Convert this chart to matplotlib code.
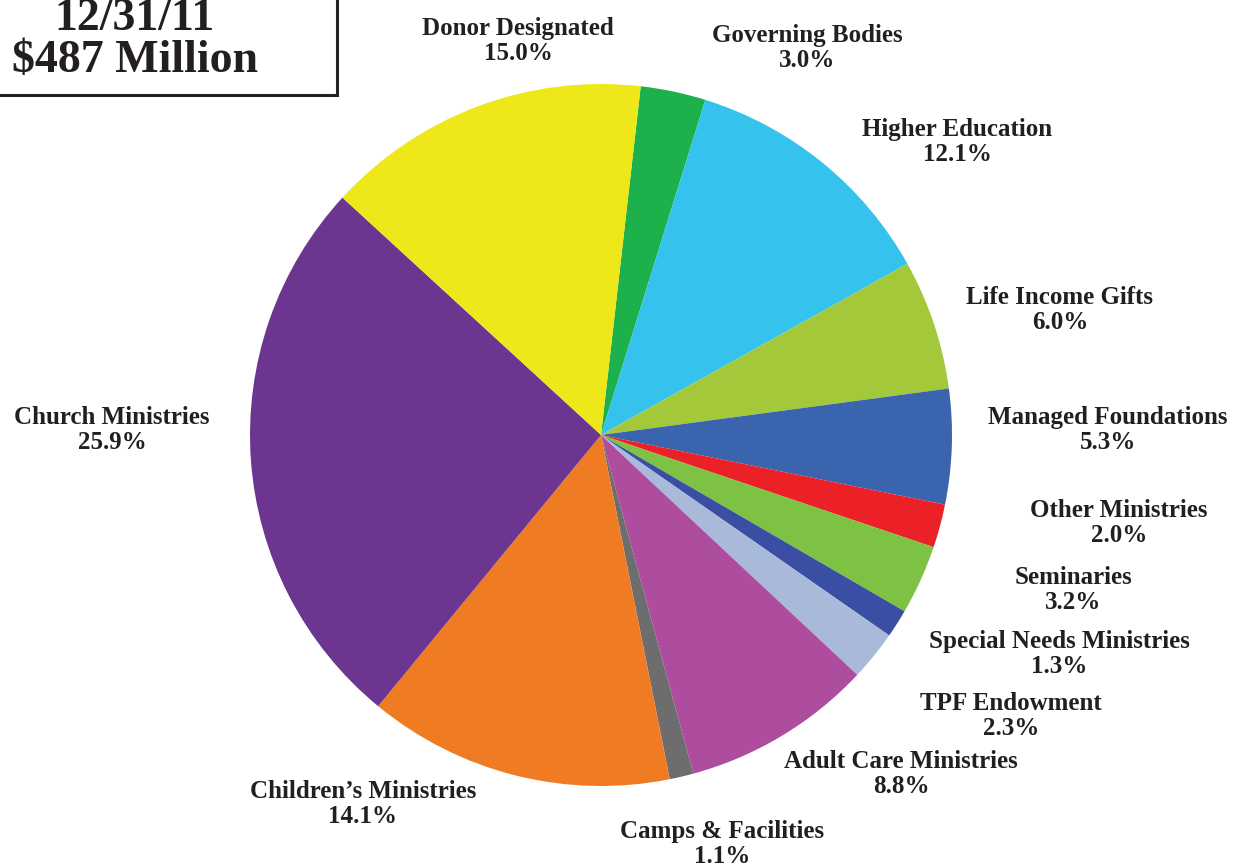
import matplotlib.pyplot as plt
from matplotlib.patches import Rectangle

# slice data, clockwise from the top (after Donor Designated)
categories = ['Governing Bodies', 'Higher Education', 'Life Income Gifts',
              'Managed Foundations', 'Other Ministries', 'Seminaries',
              'Special Needs Ministries', 'TPF Endowment', 'Adult Care Ministries',
              'Camps & Facilities', 'Children\u2019s Ministries', 'Church Ministries',
              'Donor Designated']
shares = [3.0, 12.1, 6.0, 5.3, 2.0, 3.2, 1.3, 2.3, 8.8, 1.1, 14.1, 25.9, 15.0]
colors = ['#1DB14B', '#35C3EE', '#A3C93A', '#3A64AE', '#EC2027', '#7DC242',
          '#3A4FA3', '#A9B9D9', '#AE4D9E', '#6D6D6D', '#EF7B22', '#6B3590',
          '#EEE81A']
title_lines = ['12/31/11', '$487 Million']

# label centres in pixel coords (x, y from top)
label_pos = [(807, 48), (957, 142), (1060, 310), (1108, 430), (1119, 523),
             (1073, 590), (1059, 654), (1011, 716), (901, 774), (722, 844),
             (363, 804), (112, 430), (518, 41)]

W, H = 1239, 868
fig = plt.figure(figsize=(W / 100, H / 100), dpi=100)
ax = fig.add_axes([0, 0, 1, 1])

txt_color = '#231F20'
font = dict(family=['Liberation Serif', 'DejaVu Serif'], weight='bold', color=txt_color)

ax.pie(shares, colors=colors, startangle=83.5, counterclock=False,
       center=(601, H - 435), radius=351, frame=True,
       wedgeprops=dict(linewidth=0))
ax.set_xlim(0, W)
ax.set_ylim(0, H)
ax.set_aspect('equal')
ax.axis('off')

for name, val, (x, y) in zip(categories, shares, label_pos):
    ax.text(x, H - y, f'{name}\n{val:.1f}%', ha='center', va='center',
            fontsize=18, linespacing=1.12, **font)

ax.add_patch(Rectangle((-10, H - 95), 347, 110, fill=False, edgecolor='#222222',
                       linewidth=2.2, zorder=5))
ax.text(135, H - 40, '\n'.join(title_lines), ha='center', va='center',
        fontsize=33, linespacing=1.0, **font)

fig.savefig('out.png', dpi=100)
